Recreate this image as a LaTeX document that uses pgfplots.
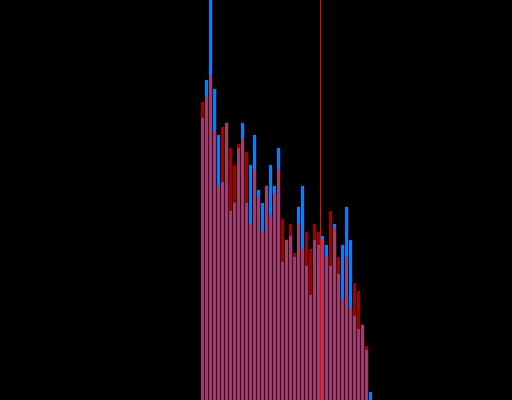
\documentclass[border=0pt]{standalone}
\usepackage{pgfplots}
\pgfplotsset{compat=1.18}
\usepackage{pgfplotstable}
\definecolor{cblue}{RGB}{0,130,255}
\definecolor{cred}{RGB}{160,0,0}
\definecolor{cpink}{RGB}{162,60,106}
\definecolor{cline}{RGB}{255,0,0}
\pgfplotstableread{
i blue red both
0 282 298 282
1 320 303 303
2 400 324 324
3 311 269 269
4 265 214 214
5 218 273 218
6 277 277 277
7 189 252 189
8 197 235 197
9 252 256 252
10 277 261 261
11 197 248 197
12 235 176 176
13 265 231 231
14 210 202 202
15 197 168 168
16 214 214 214
17 235 185 185
18 214 206 206
19 252 231 231
20 138 181 138
21 160 160 160
22 164 176 164
23 143 147 143
24 193 176 176
25 214 151 151
26 134 168 134
27 105 151 105
28 160 176 160
29 155 168 155
30 164 160 160
31 155 143 143
32 134 189 134
33 176 172 172
34 126 143 126
35 155 101 101
36 193 143 143
37 160 92 92
38 84 117 84
39 71 109 71
40 75 75 75
41 50 54 50
42 8 0 0
}\data
\begin{document}
\begin{tikzpicture}
\begin{axis}[
  width=12.8cm, height=10cm, scale only axis,
  xmin=-50.625, xmax=77.375, ymin=0, ymax=400,
  ticks=none, axis line style={draw=none},
  axis background/.style={fill=black},
  clip=true,
]
\addplot[ybar, bar shift=0pt, bar width=0.75, fill=cblue, draw=none] table[x=i, y=blue] {\data};
\addplot[ybar, bar shift=0pt, bar width=0.75, fill=cred, draw=none] table[x=i, y=red] {\data};
\addplot[ybar, bar shift=0pt, bar width=0.75, fill=cpink, draw=none] table[x=i, y=both] {\data};
\addplot[cline, line width=0.75pt] coordinates {(29.6,0) (29.6,400)};
\end{axis}
\end{tikzpicture}
\end{document}
